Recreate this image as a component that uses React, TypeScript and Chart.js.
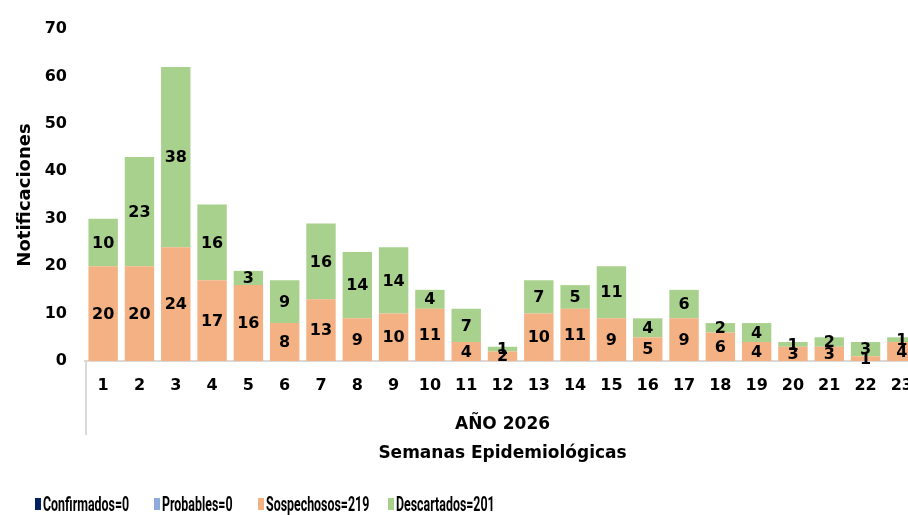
import React, { useEffect, useRef } from "react";
import { Chart, registerables } from "chart.js";

Chart.register(...registerables);

const weeks = ["1","2","3","4","5","6","7","8","9","10","11","12","13","14","15","16","17","18","19","20","21","22","23"];
const confirmados = [0,0,0,0,0,0,0,0,0,0,0,0,0,0,0,0,0,0,0,0,0,0,0];
const probables = [0,0,0,0,0,0,0,0,0,0,0,0,0,0,0,0,0,0,0,0,0,0,0];
const sospechosos = [20,20,24,17,16,8,13,9,10,11,4,2,10,11,9,5,9,6,4,3,3,1,4];
const descartados = [10,23,38,16,3,9,16,14,14,4,7,1,7,5,11,4,6,2,4,1,2,3,1];
const seriesNames = ["Confirmados", "Probables", "Sospechosos", "Descartados"];
const seriesColors = ["#002060", "#8FAADC", "#F4B183", "#A9D18E"];
const yMax = 70;
const yStep = 10;
const yTitle = "Notificaciones";
const xTitle = ["AÑO 2026", "Semanas Epidemiológicas"];

const FONT = '"DejaVu Sans", sans-serif';

const sum = (a: number[]) => a.reduce((s, v) => s + v, 0);

const segLabels = {
  id: "segLabels",
  afterDatasetsDraw(chart: any) {
    const ctx = chart.ctx;
    ctx.save();
    ctx.font = `bold 16px ${FONT}`;
    ctx.fillStyle = "#000";
    ctx.textAlign = "center";
    ctx.textBaseline = "middle";
    chart.data.datasets.forEach((ds: any, i: number) => {
      const meta = chart.getDatasetMeta(i);
      meta.data.forEach((el: any, j: number) => {
        const v = ds.data[j];
        if (!v) return;
        const p = el.getProps(["x", "y", "base"], true);
        ctx.fillText(String(v), p.x, (p.y + p.base) / 2 + 1);
      });
    });
    ctx.restore();
  },
};

const groupLine = {
  id: "groupLine",
  afterDraw(chart: any) {
    const { ctx, chartArea } = chart;
    ctx.save();
    ctx.strokeStyle = "#d9d9d9";
    ctx.lineWidth = 2;
    ctx.beginPath();
    ctx.moveTo(chartArea.left + 1, chartArea.bottom);
    ctx.lineTo(chartArea.left + 1, 435);
    ctx.stroke();
    ctx.restore();
  },
};

export default function App() {
  const ref = useRef<HTMLCanvasElement | null>(null);
  useEffect(() => {
    if (!ref.current) return;
    const data = [confirmados, probables, sospechosos, descartados];
    const chart = new Chart(ref.current, {
      type: "bar",
      data: {
        labels: weeks,
        datasets: data.map((d, i) => ({
          label: seriesNames[i],
          data: d,
          backgroundColor: seriesColors[i],
          borderWidth: 0,
          barPercentage: 0.81,
          categoryPercentage: 1,
        })),
      },
      options: {
        responsive: false,
        animation: false,
        devicePixelRatio: 1,
        layout: { padding: { left: 0, right: 0, top: 29, bottom: 47 } },
        plugins: { legend: { display: false }, tooltip: { enabled: false } },
        scales: {
          x: {
            stacked: true,
            grid: { display: false, drawTicks: false },
            border: { display: true, color: "#d9d9d9", width: 2 },
            ticks: {
              color: "#000",
              font: { family: FONT, weight: "bold", size: 16 },
              padding: 15,
              autoSkip: false,
              maxRotation: 0,
            },
            title: {
              display: true,
              text: xTitle,
              color: "#000",
              font: { family: FONT, weight: "bold", size: 17, lineHeight: 1.7 },
              padding: 0,
            },
            afterFit: (s: any) => { s.height = 107; },
          },
          y: {
            stacked: true,
            min: 0,
            max: yMax,
            grid: { display: false, drawTicks: false },
            border: { display: false },
            ticks: {
              stepSize: yStep,
              color: "#000",
              font: { family: FONT, weight: "bold", size: 16 },
              padding: 18,
            },
            title: {
              display: true,
              text: yTitle,
              color: "#000",
              font: { family: FONT, weight: "bold", size: 18 },
              padding: { top: 15, bottom: 0 },
            },
            afterFit: (s: any) => { s.width = 85; },
          },
        },
      },
      plugins: [segLabels, groupLine],
    });
    return () => chart.destroy();
  }, []);

  const totals = [confirmados, probables, sospechosos, descartados].map(sum);
  const legendLeft = [35, 154, 258, 388];

  return (
    <div style={{ position: "fixed", left: 0, top: 0, width: 908, height: 515, overflow: "hidden", background: "#fff" }}>
      <canvas ref={ref} width={928} height={515} style={{ position: "absolute", left: 0, top: 0, width: 928, height: 515 }} />
      {seriesNames.map((n, i) => (
        <div key={n} style={{ position: "absolute", left: legendLeft[i], top: 493, height: 22, display: "flex", alignItems: "center", whiteSpace: "nowrap" }}>
          <span style={{ display: "inline-block", width: 6, height: 12, background: seriesColors[i], marginRight: 2 }} />
          <span style={{ display: "inline-block", fontFamily: "Roboto, sans-serif", fontWeight: 700, fontSize: 20, lineHeight: "22px", color: "#000", transform: "scaleX(0.62)", transformOrigin: "left center" }}>
            {`${n}=${totals[i]}`}
          </span>
        </div>
      ))}
    </div>
  );
}
